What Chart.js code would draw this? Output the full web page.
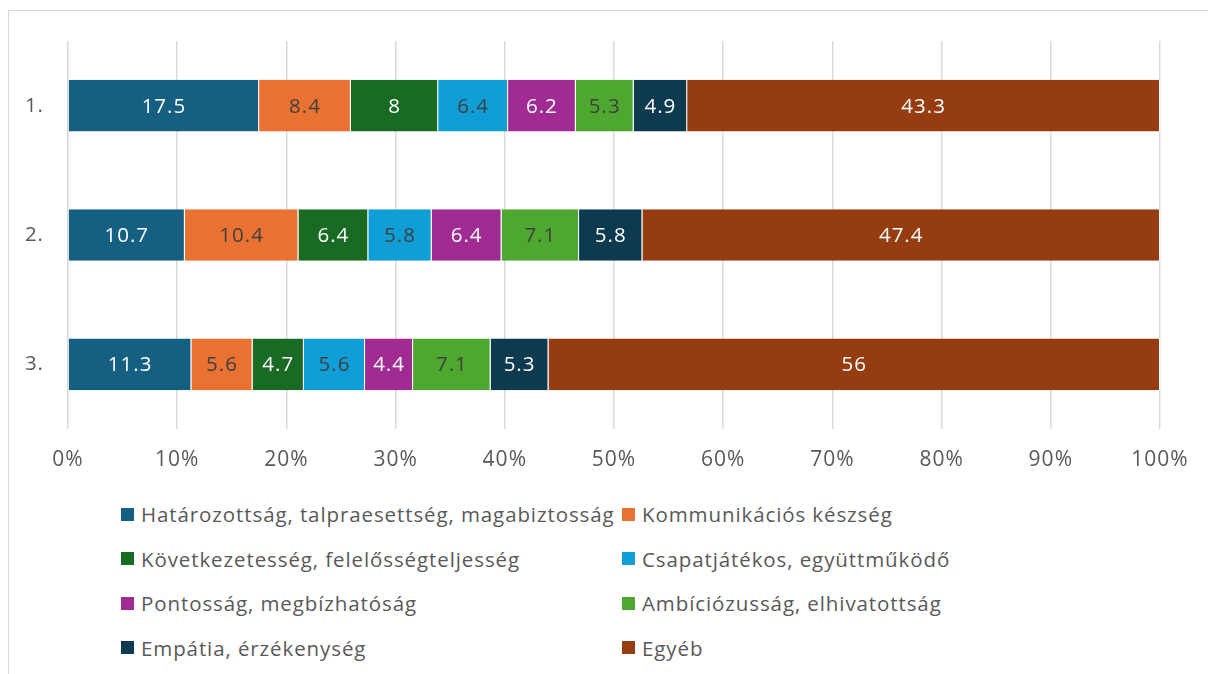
<!DOCTYPE html>
<html lang="hu">
<head>
<meta charset="utf-8">
<title>Tulajdonságok megoszlása</title>
<script src="https://cdn.jsdelivr.net/npm/chart.js@4"></script>
<style>
  html, body { margin: 0; padding: 0; background: #fff; }
  body { width: 1208px; height: 674px; position: relative; overflow: hidden; font-family: "Open Sans", sans-serif; }
  #frame { position: absolute; left: 8px; top: 10px; width: 1400px; height: 900px; border: 1px solid #d9d9d9; box-sizing: border-box; }
  #wrap { position: absolute; left: 0; top: 0; width: 1208px; height: 490px; }
  #legend { position: absolute; left: 121px; top: 492px; display: grid; grid-template-columns: 501px 400px; grid-auto-rows: 44.5px; align-items: center; }
  .item { display: flex; align-items: center; color: #595959; font-size: 20.5px; letter-spacing: 0.9px; white-space: nowrap; }
  .box { width: 13px; height: 13px; margin-right: 7px; flex: none; }
</style>
</head>
<body>
<div id="frame"></div>
<div id="wrap"><canvas id="chart"></canvas></div>
<div id="legend"></div>
<script>
const categories = ["1.", "2.", "3."];
const seriesNames = [
  "Határozottság, talpraesettség, magabiztosság",
  "Kommunikációs készség",
  "Következetesség, felelősségteljesség",
  "Csapatjátékos, együttműködő",
  "Pontosság, megbízhatóság",
  "Ambíciózusság, elhivatottság",
  "Empátia, érzékenység",
  "Egyéb"
];
const hatarozottsag = [17.5, 10.7, 11.3];
const kommunikacio = [8.4, 10.4, 5.6];
const kovetkezetesseg = [8, 6.4, 4.7];
const csapatjatekos = [6.4, 5.8, 5.6];
const pontossag = [6.2, 6.4, 4.4];
const ambicio = [5.3, 7.1, 7.1];
const empatia = [4.9, 5.8, 5.3];
const egyeb = [43.3, 47.4, 56];
const xTicks = [0, 10, 20, 30, 40, 50, 60, 70, 80, 90, 100];

const colors = ["#156082", "#e97132", "#196b24", "#0f9ed5", "#a02b93", "#4ea72e", "#0e3a50", "#963c11"];
const labelColors = ["#fff", "#404040", "#fff", "#404040", "#fff", "#404040", "#fff", "#fff"];
const values = [hatarozottsag, kommunikacio, kovetkezetesseg, csapatjatekos, pontossag, ambicio, empatia, egyeb];

const textColor = "#595959";
const fontFamily = '"Open Sans", sans-serif';

// slightly looser text on the canvas (canvas resize resets the state, so set it each time)
const spacing = {
  id: "spacing",
  beforeLayout(chart) { chart.ctx.letterSpacing = "1px"; },
  beforeDraw(chart) { chart.ctx.letterSpacing = "1px"; }
};

// value labels in the middle of each segment
const segmentLabels = {
  id: "segmentLabels",
  afterDatasetsDraw(chart) {
    const ctx = chart.ctx;
    ctx.save();
    ctx.font = "20.5px " + fontFamily;
    ctx.textAlign = "center";
    ctx.textBaseline = "middle";
    chart.data.datasets.forEach((ds, i) => {
      const meta = chart.getDatasetMeta(i);
      meta.data.forEach((bar, j) => {
        ctx.fillStyle = labelColors[i];
        ctx.fillText(String(ds.data[j]), (bar.x + bar.base) / 2, bar.y + 1);
      });
    });
    ctx.restore();
  }
};

const chart = new Chart(document.getElementById("chart"), {
  type: "bar",
  data: {
    labels: categories,
    datasets: seriesNames.map((name, i) => ({
      label: name,
      data: values[i],
      backgroundColor: colors[i],
      borderColor: "#ffffff",
      borderWidth: { left: 0, right: 1, top: 0, bottom: 0 },
      borderSkipped: false,
      categoryPercentage: 1,
      barPercentage: 0.4
    }))
  },
  options: {
    indexAxis: "y",
    responsive: true,
    maintainAspectRatio: false,
    animation: false,
    layout: { padding: { top: 41, right: 48, left: 0, bottom: 0 } },
    plugins: {
      legend: { display: false },
      tooltip: { enabled: false }
    },
    scales: {
      x: {
        stacked: true,
        min: 0,
        max: 100,
        afterBuildTicks: s => { s.ticks = xTicks.map(v => ({ value: v })); },
        afterFit: s => { s.height = 61; },
        border: { display: false },
        grid: { color: "#d9d9d9", lineWidth: 1.5, drawTicks: false },
        ticks: {
          padding: 18,
          color: textColor,
          font: { family: fontFamily, size: 21 },
          callback: v => v + "%"
        }
      },
      y: {
        stacked: true,
        afterFit: s => { s.width = 68; },
        border: { display: false },
        grid: { display: false, drawTicks: false },
        ticks: {
          padding: 24,
          color: textColor,
          font: { family: fontFamily, size: 20.5 }
        }
      }
    }
  },
  plugins: [spacing, segmentLabels]
});

// two-column legend below the plot
const legend = document.getElementById("legend");
chart.data.datasets.forEach(ds => {
  const item = document.createElement("div");
  item.className = "item";
  const box = document.createElement("span");
  box.className = "box";
  box.style.background = ds.backgroundColor;
  const txt = document.createElement("span");
  txt.textContent = ds.label;
  item.appendChild(box);
  item.appendChild(txt);
  legend.appendChild(item);
});
</script>
</body>
</html>
